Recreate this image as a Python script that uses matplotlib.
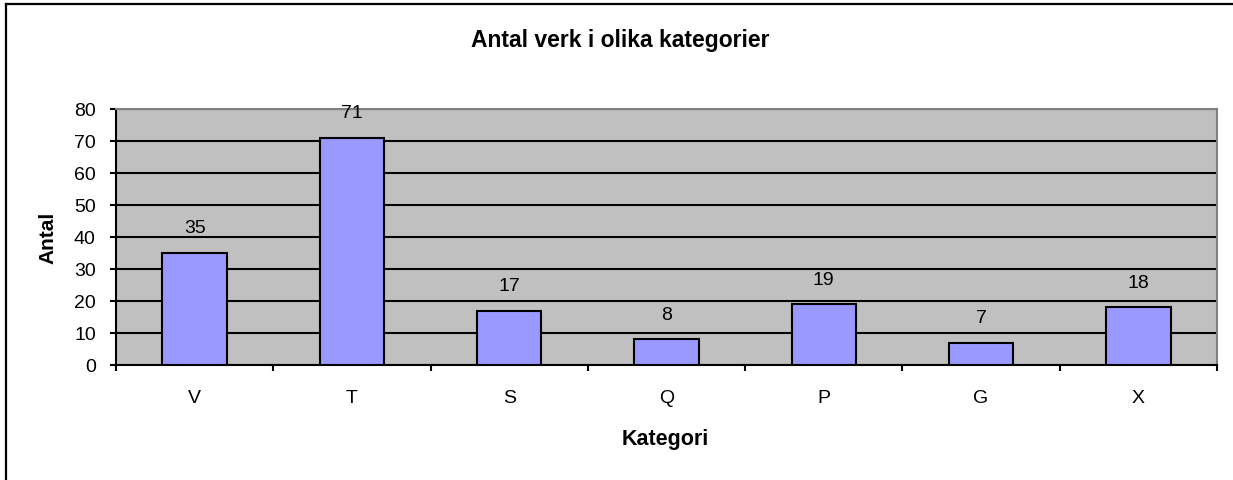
import matplotlib.pyplot as plt
from matplotlib.lines import Line2D

# data
categories = ['V', 'T', 'S', 'Q', 'P', 'G', 'X']
counts = [35, 71, 17, 8, 19, 7, 18]
yticks = [0, 10, 20, 30, 40, 50, 60, 70, 80]

plt.rcParams['font.family'] = ['Liberation Sans', 'DejaVu Sans']

fig = plt.figure(figsize=(12.33, 4.81), dpi=100)
ax = fig.add_axes([116 / 1233, 1 - 366 / 481, 1101 / 1233, 256 / 481])
ax.set_facecolor('#C0C0C0')

x = list(range(len(categories)))
bars = ax.bar(x, counts, width=0.41, color='#9999FF', edgecolor='black',
              linewidth=1.5, zorder=3)
ax.bar_label(bars, padding=12, fontsize=14)

ax.set_xlim(-0.5, len(categories) - 0.5)
ax.set_ylim(0, 80)
ax.set_yticks(yticks)
ax.yaxis.grid(True, color='black', linewidth=1.5, zorder=1)
ax.set_axisbelow(True)

# category ticks sit between the bars
ax.set_xticks([i - 0.5 for i in range(len(categories) + 1)])
ax.set_xticklabels([])
ax.set_xticks(x, minor=True)
ax.set_xticklabels(categories, minor=True, fontsize=14)
ax.tick_params(axis='x', which='major', length=4, width=1.5, direction='out')
ax.tick_params(axis='x', which='minor', length=0, pad=17)
ax.tick_params(axis='y', length=4.5, width=1.5, labelsize=14, pad=10)

for side in ['top', 'right']:
    ax.spines[side].set_color('#808080')
    ax.spines[side].set_linewidth(1.5)
for side in ['left', 'bottom']:
    ax.spines[side].set_color('black')
    ax.spines[side].set_linewidth(1.5)

fig.text(48 / 1233, 1 - 238 / 481, 'Antal', rotation=90, ha='center', va='center',
         fontsize=15, fontweight='bold')
fig.text(665 / 1233, 1 - 440 / 481, 'Kategori', ha='center', va='center',
         fontsize=15.5, fontweight='bold')
fig.text(620 / 1233, 1 - 40 / 481, 'Antal verk i olika kategorier',
         ha='center', va='center', fontsize=16.5, fontweight='bold')

# outer chart border (cut off at right and bottom)
fig.add_artist(Line2D([6 / 1233, 6 / 1233], [0, 1 - 5 / 481], color='black',
                      linewidth=1.6, transform=fig.transFigure))
fig.add_artist(Line2D([6 / 1233, 1], [1 - 5 / 481, 1 - 5 / 481], color='black',
                      linewidth=1.6, transform=fig.transFigure))

fig.savefig('out.png', dpi=100)
